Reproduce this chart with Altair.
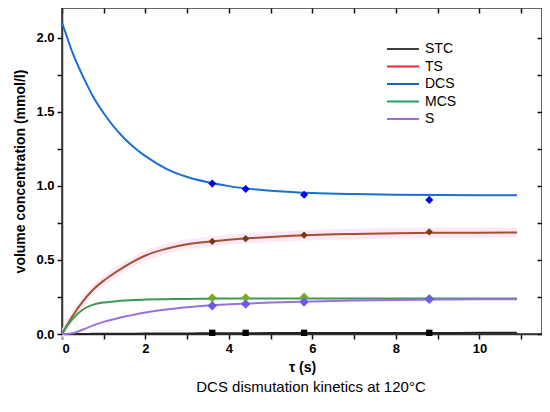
import altair as alt
import pandas as pd

# ---- data ----
names = ["STC", "TS", "DCS", "MCS", "S"]

tau = [0, 0.1, 0.25, 0.5, 0.75, 1, 1.25, 1.5, 1.75, 2, 2.5, 3, 3.5, 4, 5, 6, 7, 8, 9, 10, 10.9]
stc = [0, 0, 0, 0.0005, 0.001, 0.0015, 0.002, 0.002, 0.0025, 0.003, 0.004, 0.004, 0.005, 0.005, 0.006, 0.006, 0.007, 0.007, 0.007, 0.008, 0.008]
ts = [0, 0.05, 0.12, 0.22, 0.30, 0.36, 0.41, 0.455, 0.495, 0.53, 0.575, 0.605, 0.622, 0.636, 0.655, 0.668, 0.675, 0.68, 0.683, 0.684, 0.685]
dcs = [2.10, 2.02, 1.90, 1.74, 1.60, 1.49, 1.396, 1.318, 1.254, 1.20, 1.115, 1.06, 1.024, 0.998, 0.966, 0.951, 0.944, 0.940, 0.938, 0.937, 0.937]
mcs = [0, 0.045, 0.10, 0.165, 0.198, 0.213, 0.220, 0.226, 0.230, 0.232, 0.235, 0.237, 0.238, 0.239, 0.239, 0.24, 0.24, 0.24, 0.24, 0.24, 0.24]
s = [0, 0.0, 0.005, 0.03, 0.058, 0.082, 0.100, 0.118, 0.132, 0.145, 0.165, 0.18, 0.192, 0.2, 0.212, 0.22, 0.226, 0.23, 0.232, 0.234, 0.235]

tau_exp = [3.6, 4.4, 5.8, 8.8]
stc_exp = [0.008, 0.008, 0.008, 0.008]
ts_exp = [0.625, 0.643, 0.668, 0.689]
dcs_exp = [1.015, 0.978, 0.94, 0.905]
mcs_exp = [0.244, 0.245, 0.25, 0.24]
s_exp = [0.19, 0.203, 0.216, 0.234]

ts_band_halfwidth = 0.035

x_ticks = list(range(12))
y_ticks = [0, 0.25, 0.5, 0.75, 1.0, 1.25, 1.5, 1.75, 2.0]

legend_colors = ["#404040", "#f0282f", "#1560bd", "#20a060", "#a06ad8"]
curve_colors = ["#222222", "#a0522d", "#1a6fd6", "#3a9a55", "#9a70e0"]
point_colors = ["#000000", "#7a3a10", "#0000ee", "#70b020", "#6a5ce6"]
point_shapes = ["square", "diamond", "diamond", "diamond", "diamond"]
point_sizes = [40, 90, 90, 90, 90]

# ---- tables ----
curve_vals = {"STC": stc, "TS": ts, "DCS": dcs, "MCS": mcs, "S": s}
exp_vals = {"STC": stc_exp, "TS": ts_exp, "DCS": dcs_exp, "MCS": mcs_exp, "S": s_exp}

curves = pd.DataFrame(
    [{"series": n, "tau": t, "conc": v} for n in names for t, v in zip(tau, curve_vals[n])]
)
points = pd.DataFrame(
    [{"series": n, "tau": t, "conc": v} for n in names for t, v in zip(tau_exp, exp_vals[n])]
)
band = pd.DataFrame(
    {"tau": tau, "lo": [v - ts_band_halfwidth for v in ts], "hi": [v + ts_band_halfwidth for v in ts]}
)
legend_df = pd.DataFrame({"series": names, "tau": [0] * 5, "conc": [0] * 5})

FONT = "Liberation Sans"
xscale = alt.Scale(domain=[0, 11.5], nice=False, zero=False)
yscale = alt.Scale(domain=[0, 2.2], nice=False)

TICK = "#111111"

x_bottom = alt.Axis(
    title="τ (s)", values=x_ticks, format="d",
    labelExpr="datum.value % 2 == 0 ? datum.label : ''",
    grid=False, ticks=True, tickSize=5, tickWidth=1.5, tickColor=TICK,
    domainColor="#333", domainWidth=1.5,
    labelFont=FONT, labelFontSize=13, labelFontWeight="bold", labelColor="black", labelPadding=3,
    titleFont=FONT, titleFontSize=14, titleFontWeight="bold", titleColor="black", titlePadding=5,
)
y_left = alt.Axis(
    title="volume concentration (mmol/l)", values=y_ticks,
    labelExpr="(datum.value * 2) % 1 == 0 ? format(datum.value, '.1f') : ''",
    grid=False, ticks=True, tickSize=5, tickWidth=1.5, tickColor=TICK,
    domainColor="#333", domainWidth=1.5,
    labelFont=FONT, labelFontSize=13, labelFontWeight="bold", labelColor="black", labelPadding=3,
    titleFont=FONT, titleFontSize=14, titleFontWeight="bold", titleColor="black", titlePadding=8,
)
x_top = alt.Axis(orient="top", title=None, values=x_ticks, labels=False, domain=False,
                 grid=False, ticks=True, tickSize=5, tickWidth=1.5, tickColor=TICK, offset=-5)
y_right = alt.Axis(orient="right", title=None, values=y_ticks, labels=False, domain=False,
                   grid=False, ticks=True, tickSize=5, tickWidth=1.5, tickColor=TICK, offset=-5)

band_layer = alt.Chart(band).mark_area(color="#fce6f5", opacity=0.9).encode(
    x=alt.X("tau:Q", scale=xscale, axis=None),
    y=alt.Y("lo:Q", scale=yscale, axis=None),
    y2="hi:Q",
)

curve_layer = alt.Chart(curves).mark_line(strokeWidth=2, interpolate="monotone").encode(
    x=alt.X("tau:Q", scale=xscale, axis=x_bottom),
    y=alt.Y("conc:Q", scale=yscale, axis=y_left),
    color=alt.Color("series:N", scale=alt.Scale(domain=names, range=curve_colors), legend=None),
    detail="series:N",
)

point_layer = alt.Chart(points).mark_point(filled=True, opacity=1).encode(
    x=alt.X("tau:Q", scale=xscale, axis=None),
    y=alt.Y("conc:Q", scale=yscale, axis=None),
    color=alt.Color("series:N", scale=alt.Scale(domain=names, range=point_colors), legend=None),
    shape=alt.Shape("series:N", scale=alt.Scale(domain=names, range=point_shapes), legend=None),
    size=alt.Size("series:N", scale=alt.Scale(domain=names, range=point_sizes), legend=None),
)

legend_layer = alt.Chart(legend_df).mark_line(strokeWidth=2).encode(
    x=alt.X("tau:Q", scale=xscale, axis=x_top),
    y=alt.Y("conc:Q", scale=yscale, axis=y_right),
    color=alt.Color(
        "series:N",
        scale=alt.Scale(domain=names, range=legend_colors),
        legend=alt.Legend(
            orient="none", legendX=334, legendY=34, title=None,
            symbolType="M-4,0H4", symbolSize=64, symbolStrokeWidth=2,
            labelFont=FONT, labelFontSize=14, labelColor="black",
            labelOffset=15, rowPadding=3.5, padding=0,
        ),
    ),
)

chart = (
    alt.layer(band_layer, curve_layer, point_layer, legend_layer)
    .resolve_scale(color="independent", shape="independent", size="independent")
    .resolve_axis(x="independent", y="independent")
    .properties(
        width=480, height=326,
        autosize=alt.AutoSizeParams(type="none"),
        padding={"left": 54, "top": 0, "right": 0, "bottom": 78},
        title=alt.TitleParams(
            "DCS dismutation kinetics at 120°C", orient="bottom", anchor="middle",
            font=FONT, fontSize=15, fontWeight="normal", color="black", offset=6, dx=9,
        ),
    )
    .configure_view(stroke="#333", strokeWidth=1.5)
)

chart.save("out.html", embed_options={"renderer": "svg", "actions": False})
